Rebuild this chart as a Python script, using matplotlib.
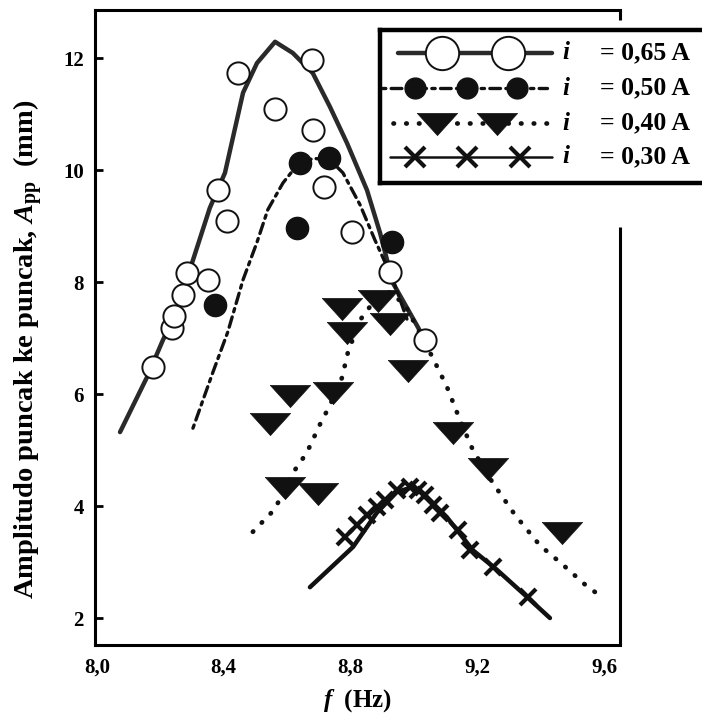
import matplotlib
matplotlib.use("Agg")
import matplotlib.pyplot as plt

plt.rcParams["font.family"] = ["Liberation Serif", "DejaVu Serif"]
plt.rcParams["font.weight"] = "bold"
plt.rcParams["mathtext.fontset"] = "custom"
plt.rcParams["mathtext.it"] = "Liberation Serif:italic:bold"
plt.rcParams["mathtext.rm"] = "Liberation Serif:bold"
plt.rcParams["mathtext.bf"] = "Liberation Serif:bold"

# i = 0,65 A : measured points and fitted curve
f_065 = [8.177, 8.237, 8.243, 8.271, 8.284, 8.350, 8.382, 8.410,
         8.445, 8.562, 8.678, 8.681, 8.716, 8.804, 8.924, 9.035]
a_065 = [6.48, 7.18, 7.40, 7.77, 8.16, 8.04, 9.64, 9.09,
         11.73, 11.09, 11.96, 10.71, 9.70, 8.89, 8.18, 6.96]
fit_f_065 = [8.073, 8.158, 8.208, 8.246, 8.303, 8.356, 8.404, 8.461, 8.505,
             8.562, 8.618, 8.681, 8.735, 8.789, 8.852, 8.893, 8.934, 9.009, 9.035]
fit_a_065 = [5.32, 6.30, 6.96, 7.41, 8.39, 9.32, 9.95, 11.38, 11.91,
             12.29, 12.09, 11.73, 11.13, 10.48, 9.64, 8.88, 7.98, 7.23, 6.96]

# i = 0,50 A
f_050 = [8.372, 8.631, 8.640, 8.732, 8.931]
a_050 = [7.59, 8.96, 10.13, 10.21, 8.71]
fit_f_050 = [8.303, 8.366, 8.413, 8.461, 8.505, 8.539, 8.587, 8.625,
             8.681, 8.735, 8.776, 8.830, 8.877, 8.934, 8.981]
fit_a_050 = [5.39, 6.39, 7.11, 8.04, 8.71, 9.29, 9.77, 10.04,
             10.21, 10.18, 9.95, 9.38, 8.75, 8.04, 7.29]

# i = 0,40 A
f_040 = [8.546, 8.593, 8.609, 8.697, 8.744, 8.773, 8.789, 8.886,
         8.924, 8.981, 9.123, 9.233, 9.467]
a_040 = [5.48, 4.34, 5.98, 4.23, 6.04, 7.54, 7.11, 7.68,
         7.27, 6.43, 5.32, 4.68, 3.54]
fit_f_040 = [8.492, 8.552, 8.577, 8.618, 8.662, 8.703, 8.735, 8.773, 8.792,
             8.830, 8.877, 8.924, 8.972, 9.060, 9.104, 9.145, 9.186, 9.249,
             9.319, 9.397, 9.470, 9.549, 9.593]
fit_a_040 = [3.54, 3.89, 4.11, 4.59, 4.95, 5.45, 5.80, 6.29, 6.75,
             7.32, 7.68, 7.82, 7.59, 6.64, 6.13, 5.54, 5.00, 4.41,
             3.84, 3.30, 2.95, 2.55, 2.38]

# i = 0,30 A
f_030 = [8.782, 8.820, 8.852, 8.883, 8.908, 8.946, 8.987, 9.012,
         9.035, 9.060, 9.082, 9.139, 9.177, 9.249, 9.359]
a_030 = [3.45, 3.66, 3.84, 3.98, 4.11, 4.29, 4.34, 4.29,
         4.20, 4.02, 3.88, 3.57, 3.21, 2.91, 2.38]
fit_f_030 = [8.672, 8.808, 8.883, 8.946, 8.997, 9.028, 9.104, 9.186,
             9.262, 9.356, 9.429]
fit_a_030 = [2.55, 3.27, 3.88, 4.25, 4.34, 4.23, 3.80, 3.21,
             2.86, 2.38, 2.00]

x_ticks = [8.0, 8.4, 8.8, 9.2, 9.6]
x_tick_labels = ["8,0", "8,4", "8,8", "9,2", "9,6"]
y_ticks = [2, 4, 6, 8, 10, 12]
legend_values = ["= 0,65 A", "= 0,50 A", "= 0,40 A", "= 0,30 A"]

ink = "#111111"
# wide, flat downward triangle as in the original figure
flat_tri = [(-1.0, 0.5), (1.0, 0.5), (0.0, -0.6), (-1.0, 0.5)]

styles = {
    "065": dict(line=dict(color="#2a2a2a", lw=3.2, solid_capstyle="round"),
                mark=dict(marker="o", mfc="white", mec=ink, mew=1.4)),
    "050": dict(line=dict(color=ink, lw=2.4, dashes=(1, 1.6, 3.2, 1.6), dash_capstyle="round"),
                mark=dict(marker="o", mfc=ink, mec=ink)),
    "040": dict(line=dict(color=ink, lw=3.4, dashes=(0.1, 2.6), dash_capstyle="round"),
                mark=dict(marker=flat_tri, mfc=ink, mec=ink, mew=0.5)),
    "030": dict(line=dict(color=ink, lw=3.2, solid_capstyle="round"),
                mark=dict(marker="x", mec=ink, mew=3)),
}

fig = plt.figure(figsize=(7.02, 7.17), dpi=100)
ax = fig.add_axes([0.1353, 0.1004, 0.7479, 0.8856])

ax.plot(fit_f_065, fit_a_065, zorder=2, **styles["065"]["line"])
ax.plot(f_065, a_065, ls="none", ms=16, zorder=4, **styles["065"]["mark"])
ax.plot(fit_f_050, fit_a_050, zorder=2, **styles["050"]["line"])
ax.plot(f_050, a_050, ls="none", ms=16, zorder=4, **styles["050"]["mark"])
ax.plot(fit_f_040, fit_a_040, zorder=2, **styles["040"]["line"])
ax.plot(f_040, a_040, ls="none", ms=29, zorder=4, **styles["040"]["mark"])
ax.plot(fit_f_030, fit_a_030, zorder=2, **styles["030"]["line"])
ax.plot(f_030, a_030, ls="none", ms=11, zorder=4, **styles["030"]["mark"])

ax.set_xlim(7.994, 9.65)
ax.set_ylim(1.518, 12.857)
ax.set_xticks(x_ticks)
ax.set_xticklabels(x_tick_labels)
ax.set_yticks(y_ticks)
ax.tick_params(axis="x", length=0, pad=9, labelsize=15)
ax.tick_params(axis="y", direction="in", length=6, width=2, pad=8, labelsize=15)
for lab in ax.get_xticklabels() + ax.get_yticklabels():
    lab.set_fontweight("bold")

for side in ["left", "bottom", "top"]:
    ax.spines[side].set_linewidth(2.2)
ax.spines["right"].set_visible(False)
# right spine is interrupted around the legend box
ax.plot([1, 1], [0, 0.658], transform=ax.transAxes, color="black", lw=2.2,
        clip_on=False, solid_capstyle="butt")
ax.plot([1, 1], [0.984, 1], transform=ax.transAxes, color="black", lw=2.2,
        clip_on=False, solid_capstyle="butt")

ax.set_xlabel("$f$  (Hz)", fontsize=18, fontweight="bold", labelpad=7)
ax.set_ylabel(r"Amplitudo puncak ke puncak, $A_{\mathrm{pp}}$  (mm)", fontsize=20.5,
              fontweight="bold")
ax.yaxis.set_label_coords(-0.095, 0.465)

# hand-built legend box, running off the right edge like the original
lg = fig.add_axes([0.5413, 0.7448, 0.473, 0.2134])
lg.set_xlim(0, 1)
lg.set_ylim(0, 1)
lg.set_xticks([])
lg.set_yticks([])
for s in lg.spines.values():
    s.set_linewidth(3.2)

legend_rows = [
    ("065", 0.85, (0.054, 0.518), [0.187, 0.386], 24),
    ("050", 0.62, (0.006, 0.503), [0.105, 0.262, 0.413], 15),
    ("040", 0.39, (0.039, 0.506), [0.172, 0.352], 29),
    ("030", 0.17, (0.030, 0.518), [0.105, 0.262, 0.422], 14),
]
for (key, yrow, (x0, x1), xm, ms), value in zip(legend_rows, legend_values):
    line_kw = dict(styles[key]["line"])
    if key == "030":
        line_kw["lw"] = 1.8
    lg.plot([x0, x1], [yrow, yrow], clip_on=False, **line_kw)
    lg.plot(xm, [yrow] * len(xm), ls="none", ms=ms, clip_on=False, **styles[key]["mark"])
    lg.text(0.548, yrow, "$i$", fontsize=18, va="center", ha="left")
    lg.text(0.663, yrow, value, fontsize=18.5, va="center", ha="left", fontweight="bold")

fig.savefig("out.png", dpi=100)
